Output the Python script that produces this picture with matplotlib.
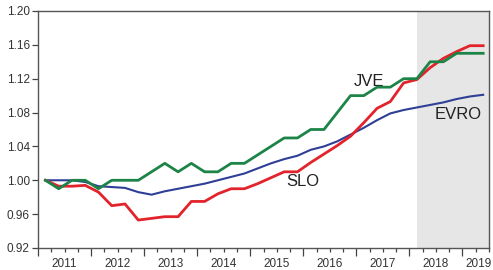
import numpy as np
import matplotlib
matplotlib.use('Agg')
import matplotlib.pyplot as plt

plt.rcParams['font.family'] = ['Liberation Sans', 'DejaVu Sans']

# quarterly observations 2011Q1 - 2019Q2
quarters = [f'{y}Q{q}' for y in range(2011, 2020) for q in range(1, 5)][:34]

slo = [1.000, 0.993, 0.993, 0.994, 0.986, 0.970, 0.972, 0.953, 0.955, 0.957,
       0.957, 0.975, 0.975, 0.984, 0.990, 0.990, 0.996, 1.003, 1.010, 1.010,
       1.021, 1.031, 1.041, 1.052, 1.068, 1.085, 1.093, 1.115, 1.119, 1.133,
       1.144, 1.152, 1.159, 1.159]
jve = [1.00, 0.99, 1.00, 1.00, 0.99, 1.00, 1.00, 1.00, 1.01, 1.02,
       1.01, 1.02, 1.01, 1.01, 1.02, 1.02, 1.03, 1.04, 1.05, 1.05,
       1.06, 1.06, 1.08, 1.10, 1.10, 1.11, 1.11, 1.12, 1.12, 1.14,
       1.14, 1.15, 1.15, 1.15]
evro = [1.000, 1.000, 1.000, 0.998, 0.993, 0.992, 0.991, 0.986, 0.983, 0.987,
        0.990, 0.993, 0.996, 1.000, 1.004, 1.008, 1.014, 1.020, 1.025, 1.029,
        1.036, 1.040, 1.046, 1.054, 1.062, 1.071, 1.079, 1.083, 1.086, 1.089,
        1.092, 1.096, 1.099, 1.101]

years = list(range(2011, 2020))
yticks = [0.92, 0.96, 1.00, 1.04, 1.08, 1.12, 1.16, 1.20]
forecast_start = '2018Q1'

def qpos(s):
    return int(s[:4]) + (int(s[-1]) - 1) / 4 + 0.14

x = np.array([qpos(q) for q in quarters])

fig = plt.figure(figsize=(4.93, 2.70), dpi=100)
ax = fig.add_axes([0.0771, 0.0815, 0.9148, 0.8778])

ax.axvspan(qpos(forecast_start), 2019.5, color='#e6e6e6', lw=0, zorder=0)

ax.plot(x, evro, color='#2f3f96', lw=1.5, zorder=3)
ax.plot(x, slo, color='#e3232b', lw=2.0, zorder=4)
ax.plot(x, jve, color='#1d8448', lw=2.0, zorder=5)

ax.text(2017.23, 1.1165, 'JVE', fontsize=12, color='#222222', ha='center', va='center')
ax.text(2018.92, 1.0776, 'EVRO', fontsize=12, color='#222222', ha='center', va='center')
ax.text(2016.0, 0.999, 'SLO', fontsize=12, color='#222222', ha='center', va='center')

ax.set_yticks(yticks)
ax.set_yticklabels([f'{v:.2f}' for v in yticks])

ax.set_xticks(years)
ax.set_xticklabels([''] * len(years))
qticks = [y + k / 4 for y in years for k in (1, 2, 3)]
# last year's label does not fit under the half year, it goes in separately
qlabels = [str(y) if (k == 2 and y != years[-1]) else '' for y in years for k in (1, 2, 3)]
ax.set_xticks(qticks, minor=True)
ax.set_xticklabels(qlabels, minor=True)
ax.annotate(str(years[-1]), xy=(2019.5, 0), xycoords=('data', 'axes fraction'),
            xytext=(2, -7), textcoords='offset points', ha='right', va='top',
            fontsize=8.5, color='#333333', annotation_clip=False)

# limits after the ticks, set_xticks widens the view otherwise
ax.set_xlim(2011, 2019.5)
ax.set_ylim(0.92, 1.20)

ax.tick_params(axis='x', which='major', direction='out', length=6, width=0.9, color='#444444')
ax.tick_params(axis='x', which='minor', direction='out', length=3, width=0.9, color='#444444',
               pad=4, labelsize=8.5, labelcolor='#333333')
ax.tick_params(axis='y', direction='out', length=4, width=0.9, color='#444444',
               labelsize=8.5, labelcolor='#333333', pad=2)

for s in ax.spines.values():
    s.set_color('#555555')
    s.set_linewidth(1.0)

fig.savefig('out.png', dpi=100)
